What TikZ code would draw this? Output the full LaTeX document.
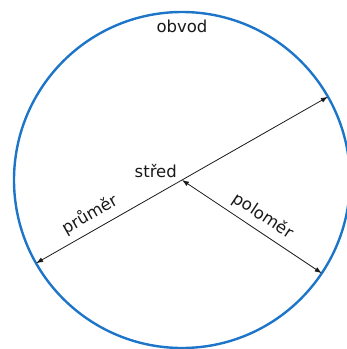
\documentclass[tikz,border=0pt]{standalone}
\usepackage{fontspec}
\setmainfont{DejaVu Sans}
\usetikzlibrary{arrows.meta,calc,positioning}
\definecolor{KruhBlue}{RGB}{28,117,200}
\definecolor{SipkaGray}{RGB}{25,25,25}

\begin{document}
\begin{tikzpicture}[x=1pt,y=-1pt,>={Latex[length=7pt,width=5pt]},
    popis/.style={font=\fontsize{16.5}{19}\selectfont,text=SipkaGray}]
      \useasboundingbox (0,0) rectangle (347,349);
      \coordinate (stred) at (182,180);
      \coordinate (vrchol) at ($(stred)+(90:168pt)$);
      \coordinate (prumerA) at ($(stred)+(29.7:168pt)$);
      \coordinate (prumerB) at ($(stred)+(209.7:168pt)$);
      \coordinate (polomerC) at ($(stred)+(-33.7:168pt)$);
      \draw[line width=2.4pt,KruhBlue] (stred) circle (168pt);
      \draw[<->,line width=0.8pt,SipkaGray] (prumerB)--(prumerA)
        node[popis,pos=0.21,sloped,above=3pt]{průměr};
      \draw[<->,line width=0.8pt,SipkaGray] (stred)--(polomerC)
        node[popis,pos=0.52,sloped,above=3pt]{poloměr};
      \node[popis,above left=0pt and 3pt of stred,inner sep=2pt] (stredpopis) {střed};
      \node[popis,below=4pt of vrchol] (obvodpopis) {obvod};
    \end{tikzpicture}
\end{document}
